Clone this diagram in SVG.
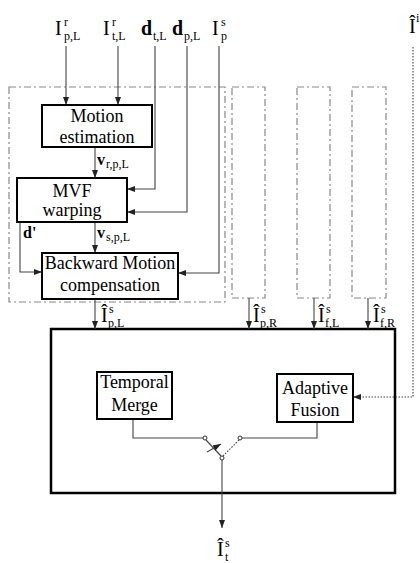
<svg xmlns="http://www.w3.org/2000/svg" width="420" height="563" viewBox="0 0 420 563">
<style>
.box{fill:#fff;stroke:#000;stroke-width:2}
.grp{fill:none;stroke:#888;stroke-width:1.2;stroke-dasharray:7 3 2 3}
.ln{fill:none;stroke:#444;stroke-width:1.1}
.dot{fill:none;stroke:#444;stroke-width:1.1;stroke-dasharray:1.5 1.5}
.t{font-family:"Liberation Serif","Times New Roman",serif;font-size:18px;fill:#000;text-anchor:middle}
.L{font-family:"Liberation Serif","Times New Roman",serif;font-size:20px;fill:#000}
.s{font-family:"Liberation Serif","Times New Roman",serif;font-size:12px;fill:#000}
.b{font-weight:bold}
.sw{fill:#fff;stroke:#333;stroke-width:1}
</style>
<defs>
<marker id="ar" viewBox="0 0 8 6" refX="8" refY="3" markerWidth="8" markerHeight="6" markerUnits="userSpaceOnUse" orient="auto">
<path d="M0,0 L8,3 L0,6 z" fill="#222"/>
</marker>
</defs>

<g id="groups">
<rect class="grp" x="9" y="87" width="216" height="215"/>
<rect class="grp" x="232" y="87" width="33" height="211"/>
<rect class="grp" x="297" y="87" width="33" height="211"/>
<rect class="grp" x="352" y="87" width="34" height="211"/>
</g>

<g id="fusionBlock">
<rect x="51" y="329" width="344" height="164" fill="none" stroke="#000" stroke-width="2.5"/>
</g>

<g id="connectors">
<line class="ln" x1="66" y1="46" x2="66" y2="105" marker-end="url(#ar)"/>
<line class="ln" x1="118" y1="46" x2="118" y2="105" marker-end="url(#ar)"/>
<polyline class="ln" points="155,46 155,189 127,189" marker-end="url(#ar)"/>
<polyline class="ln" points="187,46 187,212 127,212" marker-end="url(#ar)"/>
<polyline class="ln" points="219,46 219,273 178,273" marker-end="url(#ar)"/>
<line class="ln" x1="95" y1="147" x2="95" y2="178" marker-end="url(#ar)"/>
<line class="ln" x1="95" y1="222" x2="95" y2="253" marker-end="url(#ar)"/>
<polyline class="ln" points="20,222 20,272 42,272" marker-end="url(#ar)"/>
<line class="ln" x1="95" y1="299" x2="95" y2="329" marker-end="url(#ar)"/>
<line class="ln" x1="249" y1="298" x2="249" y2="329" marker-end="url(#ar)"/>
<line class="ln" x1="314" y1="298" x2="314" y2="329" marker-end="url(#ar)"/>
<line class="ln" x1="368" y1="298" x2="368" y2="329" marker-end="url(#ar)"/>
<polyline class="dot" points="413,47 413,397 353,397" marker-end="url(#ar)"/>
<polyline class="ln" points="133,419 133,438 203,438"/>
<polyline class="ln" points="317,422 317,438 242,438"/>
<line class="ln" x1="206" y1="440" x2="221" y2="456"/>
<line class="dot" x1="223" y1="456" x2="239" y2="440"/>
<line class="ln" x1="207" y1="452" x2="221" y2="444" marker-end="url(#ar)"/>
<line class="ln" x1="222" y1="460" x2="222" y2="528" marker-end="url(#ar)"/>
<circle class="sw" cx="205" cy="438" r="2"/>
<circle class="sw" cx="240" cy="438" r="2"/>
<circle class="sw" cx="222" cy="458" r="2"/>
</g>

<g id="motionEstimation">
<rect class="box" x="42" y="105" width="110" height="42"/>
<text class="t" x="97" y="122">Motion</text>
<text class="t" x="97" y="143">estimation</text>
</g>

<g id="mvfWarping">
<rect class="box" x="17" y="178" width="110" height="44"/>
<text class="t" x="72" y="197">MVF</text>
<text class="t" x="72" y="216">warping</text>
</g>

<g id="backwardMC">
<rect class="box" x="42" y="253" width="136" height="46"/>
<text class="t" x="110" y="269">Backward Motion</text>
<text class="t" x="110" y="291">compensation</text>
</g>

<g id="temporalMerge">
<rect class="box" x="97" y="372" width="75" height="47"/>
<text class="t" x="134.5" y="388">Temporal</text>
<text class="t" x="134.5" y="411">Merge</text>
</g>

<g id="adaptiveFusion">
<rect class="box" x="277" y="374" width="76" height="48"/>
<text class="t" x="315" y="394">Adaptive</text>
<text class="t" x="315" y="416">Fusion</text>
</g>

<g id="labels">
<text class="L" x="55" y="35">I</text><text class="s" x="64" y="26">r</text><text class="s" x="64" y="40">p,L</text>
<text class="L" x="103" y="35">I</text><text class="s" x="112" y="26">r</text><text class="s" x="112" y="40">t,L</text>
<text class="L b" x="141" y="35">d</text><text class="s" x="153" y="40">t,L</text>
<text class="L b" x="172" y="35">d</text><text class="s" x="184" y="40">p,L</text>
<text class="L" x="212" y="35">I</text><text class="s" x="221" y="26">s</text><text class="s" x="221" y="40">p</text>
<text class="L" x="409" y="33">Î</text><text class="s" x="416" y="22">i</text>

<text class="L b" x="97" y="165" style="font-size:16px">v</text><text class="s" x="106" y="168">r,p,L</text>
<text class="L b" x="97" y="238" style="font-size:16px">v</text><text class="s" x="106" y="241">s,p,L</text>
<text class="L b" x="23" y="238" style="font-size:16px">d'</text>

<text class="L" x="101" y="322">Î</text><text class="s" x="109" y="313">s</text><text class="s" x="108" y="327">p,L</text>
<text class="L" x="253" y="322">Î</text><text class="s" x="261" y="313">s</text><text class="s" x="260" y="327">p,R</text>
<text class="L" x="318" y="322">Î</text><text class="s" x="326" y="313">s</text><text class="s" x="325" y="327">f,L</text>
<text class="L" x="373" y="322">Î</text><text class="s" x="381" y="313">s</text><text class="s" x="380" y="327">f,R</text>

<text class="L" x="217" y="556">Î</text><text class="s" x="225" y="547">s</text><text class="s" x="225" y="561">t</text>
</g>
</svg>
